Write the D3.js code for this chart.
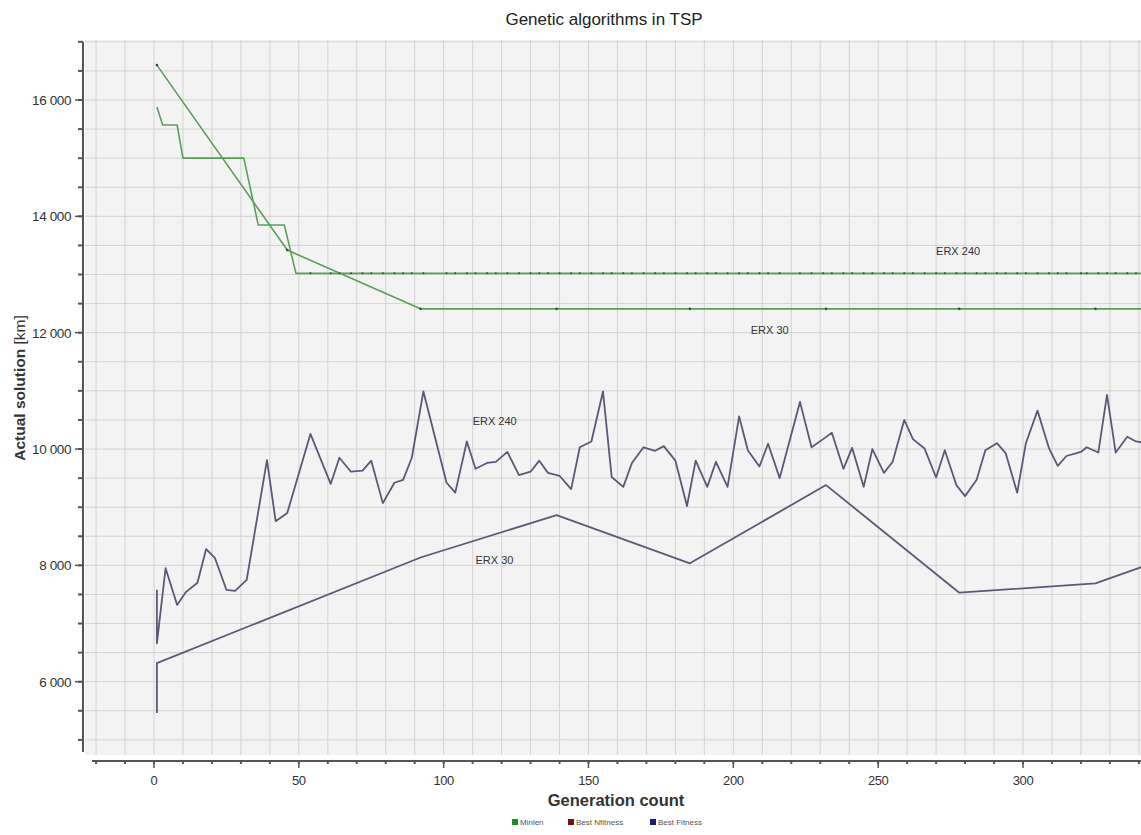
<!DOCTYPE html>
<html>
<head>
<meta charset="utf-8">
<script src="https://cdn.jsdelivr.net/npm/d3@7"></script>
<style>
  body { margin: 0; background: #fff; }
  svg { display: block; font-family: 'Liberation Sans', Arial, sans-serif; }
</style>
</head>
<body>
<svg id="chart" width="1141" height="835"></svg>
<script>
// ERX 240 - best fitness (blue/grey noisy line)
const genBest240 = [1, 1, 4, 8, 11, 15, 18, 21, 25, 28, 32, 39, 42, 46, 54, 61, 64, 68, 72, 75, 79, 83, 86, 89,
  93, 101, 104, 108, 111, 115, 118, 122, 126, 130, 133, 136, 140, 144, 147, 151, 155, 158, 162, 165, 169, 173,
  176, 180, 184, 187, 191, 194, 198, 202, 205, 209, 212, 216, 223, 227, 231, 234, 238, 241, 245, 248, 252, 255,
  259, 262, 266, 270, 273, 277, 280, 284, 287, 291, 294, 298, 301, 305, 309, 312, 315, 320, 322, 326, 329, 332,
  336, 339, 343];
const best240 = [7580, 6660, 7950, 7320, 7540, 7700, 8280, 8130, 7580, 7560, 7750, 9810, 8760, 8900, 10260, 9400,
  9850, 9610, 9630, 9800, 9070, 9420, 9470, 9850,
  10990, 9420, 9250, 10130, 9660, 9760, 9780, 9950, 9550, 9610, 9800, 9590, 9540, 9310, 10030, 10130, 10990, 9520,
  9350, 9760, 10030, 9970, 10050, 9800, 9020, 9800, 9350, 9780, 9350, 10560, 9980, 9700, 10090, 9500, 10810, 10030,
  10170, 10280, 9660, 10020, 9350, 10000, 9590, 9780, 10500, 10170, 10010, 9510, 9980, 9380, 9190, 9470, 9980,
  10100, 9930, 9250, 10100, 10660, 10010, 9710, 9880, 9950, 10030, 9940, 10930, 9940, 10210, 10130, 10100];

// ERX 30 - best fitness
const genBest30 = [1, 1, 92, 139, 185, 232, 278, 325, 371];
const best30 = [5460, 6320, 8135, 8865, 8035, 9380, 7530, 7690, 8500];

// Minlen (green)
const genMin240 = [1, 3, 8, 10, 31, 36, 45, 49, 343];
const min240 = [15880, 15570, 15570, 15000, 15000, 13850, 13850, 13020, 13020];
const genMin30 = [1, 46, 92, 139, 185, 232, 278, 325, 371];
const min30 = [16600, 13420, 12410, 12410, 12410, 12410, 12410, 12410, 12410];

const xMajor = [0, 50, 100, 150, 200, 250, 300];
const yMajor = [6000, 8000, 10000, 12000, 14000, 16000];

const labels = [
  { text: 'ERX 240', gen: 270, val: 13340 },
  { text: 'ERX 30', gen: 206, val: 11980 },
  { text: 'ERX 240', gen: 110, val: 10410 },
  { text: 'ERX 30', gen: 111, val: 8020 }
];
const legendItems = [
  { name: 'Minlen', color: '#1f8a2a' },
  { name: 'Best Nfitness', color: '#7a1010' },
  { name: 'Best Fitness', color: '#1c1c6e' }
];

const svg = d3.select('#chart');
const canvas = { left: 85, right: 1141, top: 40, bottom: 755 };

const x = d3.scaleLinear().domain([0, 300]).range([154, 1023]);
const y = d3.scaleLinear().domain([6000, 16000]).range([681.7, 100]);

const xMin = x.invert(canvas.left), xMax = x.invert(canvas.right);
const yMin = y.invert(canvas.bottom), yMax = y.invert(canvas.top);

svg.append('defs').append('clipPath').attr('id', 'clip')
  .append('rect')
  .attr('x', canvas.left).attr('y', canvas.top)
  .attr('width', canvas.right - canvas.left).attr('height', canvas.bottom - canvas.top);

// plot background
svg.append('rect')
  .attr('x', canvas.left).attr('y', canvas.top)
  .attr('width', canvas.right - canvas.left).attr('height', canvas.bottom - canvas.top)
  .attr('fill', '#f3f3f3');

// grid
const xGrid = d3.range(-20, xMax, 10);
const yGrid = d3.range(5000, yMax, 500);
const grid = svg.append('g').attr('clip-path', 'url(#clip)');
grid.selectAll('.vg').data(xGrid).enter().append('line')
  .attr('x1', d => x(d)).attr('x2', d => x(d))
  .attr('y1', canvas.top).attr('y2', canvas.bottom)
  .attr('stroke', '#d3d3d3').attr('stroke-width', 1);
grid.selectAll('.hg').data(yGrid).enter().append('line')
  .attr('x1', canvas.left).attr('x2', canvas.right)
  .attr('y1', d => y(d)).attr('y2', d => y(d))
  .attr('stroke', '#d3d3d3').attr('stroke-width', 1);

// curves
const line = d3.line().x(d => x(d[0])).y(d => y(d[1]));
const plot = svg.append('g').attr('clip-path', 'url(#clip)');
const series = [
  { g: genMin30, v: min30, color: '#5a9f5a', w: 1.6, dots: true },
  { g: genMin240, v: min240, color: '#5a9f5a', w: 1.6, dots: false },
  { g: genBest30, v: best30, color: '#5a5a78', w: 1.8, dots: false },
  { g: genBest240, v: best240, color: '#5a5a78', w: 1.8, dots: false }
];
series.forEach(function(s) {
  var pts = s.g.map((g, i) => [g, s.v[i]]);
  plot.append('path').datum(pts)
    .attr('d', line)
    .attr('fill', 'none')
    .attr('stroke', s.color)
    .attr('stroke-width', s.w)
    .attr('stroke-linejoin', 'round');
  if (s.dots) {
    plot.selectAll(null).data(pts).enter().append('circle')
      .attr('cx', d => x(d[0])).attr('cy', d => y(d[1]))
      .attr('r', 1.3).attr('fill', '#3c4a3c');
  }
});

// dotted texture on the flat ERX 240 minlen line
plot.selectAll(null).data(genBest240.filter(g => g >= 49)).enter().append('circle')
  .attr('cx', d => x(d)).attr('cy', y(13020))
  .attr('r', 1).attr('fill', '#3c4a3c');

// curve labels
svg.selectAll('.clabel').data(labels).enter().append('text')
  .attr('x', d => x(d.gen)).attr('y', d => y(d.val))
  .attr('font-size', 11).attr('fill', '#333')
  .text(d => d.text);

// y axis
const fmt = v => d3.format(',')(v).replace(',', ' ');
const yAxis = svg.append('g').attr('transform', 'translate(83,0)');
yAxis.append('line').attr('x1', 0).attr('x2', 0).attr('y1', 42).attr('y2', 752)
  .attr('stroke', '#555').attr('stroke-width', 2);
yAxis.selectAll('.ym').data(yGrid.filter(v => v > yMin)).enter().append('line')
  .attr('x1', -5).attr('x2', 0).attr('y1', d => y(d)).attr('y2', d => y(d))
  .attr('stroke', '#555').attr('stroke-width', 2);
yAxis.selectAll('.yM').data(yMajor).enter().append('line')
  .attr('x1', -8).attr('x2', 0).attr('y1', d => y(d)).attr('y2', d => y(d))
  .attr('stroke', '#555').attr('stroke-width', 1.5);
yAxis.selectAll('.yl').data(yMajor).enter().append('text')
  .attr('x', -12).attr('y', d => y(d) + 5)
  .attr('text-anchor', 'end').attr('font-size', 13.5).attr('fill', '#333')
  .attr('letter-spacing', -0.4)
  .text(fmt);

// x axis
const xAxis = svg.append('g').attr('transform', 'translate(0,761)');
xAxis.append('line').attr('x1', 92).attr('x2', 1141).attr('y1', 0).attr('y2', 0)
  .attr('stroke', '#555').attr('stroke-width', 2);
xAxis.selectAll('.xm').data(xGrid).enter().append('line')
  .attr('x1', d => x(d)).attr('x2', d => x(d)).attr('y1', 0).attr('y2', 3)
  .attr('stroke', '#555').attr('stroke-width', 2);
xAxis.selectAll('.xM').data(xMajor).enter().append('line')
  .attr('x1', d => x(d)).attr('x2', d => x(d)).attr('y1', 0).attr('y2', 7)
  .attr('stroke', '#555').attr('stroke-width', 1.5);
xAxis.selectAll('.xl').data(xMajor).enter().append('text')
  .attr('x', d => x(d)).attr('y', 24)
  .attr('text-anchor', 'middle').attr('font-size', 13).attr('fill', '#333')
  .attr('letter-spacing', -0.4)
  .text(d => d);

// titles
svg.append('text').attr('x', 604).attr('y', 25)
  .attr('text-anchor', 'middle').attr('font-size', 17).attr('fill', '#222')
  .text('Genetic algorithms in TSP');
svg.append('text').attr('x', 616).attr('y', 806)
  .attr('text-anchor', 'middle').attr('font-size', 16.5).attr('font-weight', 700).attr('fill', '#333')
  .text('Generation count');
const yLab = svg.append('text')
  .attr('transform', 'translate(25,388) rotate(-90)')
  .attr('text-anchor', 'middle').attr('font-size', 15.5).attr('fill', '#333');
yLab.append('tspan').attr('font-weight', 700).text('Actual solution ');
yLab.append('tspan').text('[km]');

// legend
const legendX = [512, 568, 650];
const legend = svg.append('g').attr('transform', 'translate(0,825)');
legendItems.forEach(function(item, i) {
  legend.append('rect').attr('x', legendX[i]).attr('y', -6).attr('width', 6).attr('height', 6)
    .attr('fill', item.color);
  legend.append('text').attr('x', legendX[i] + 8).attr('y', 0)
    .attr('font-size', 8).attr('fill', '#555')
    .text(item.name);
});
</script>
</body>
</html>
